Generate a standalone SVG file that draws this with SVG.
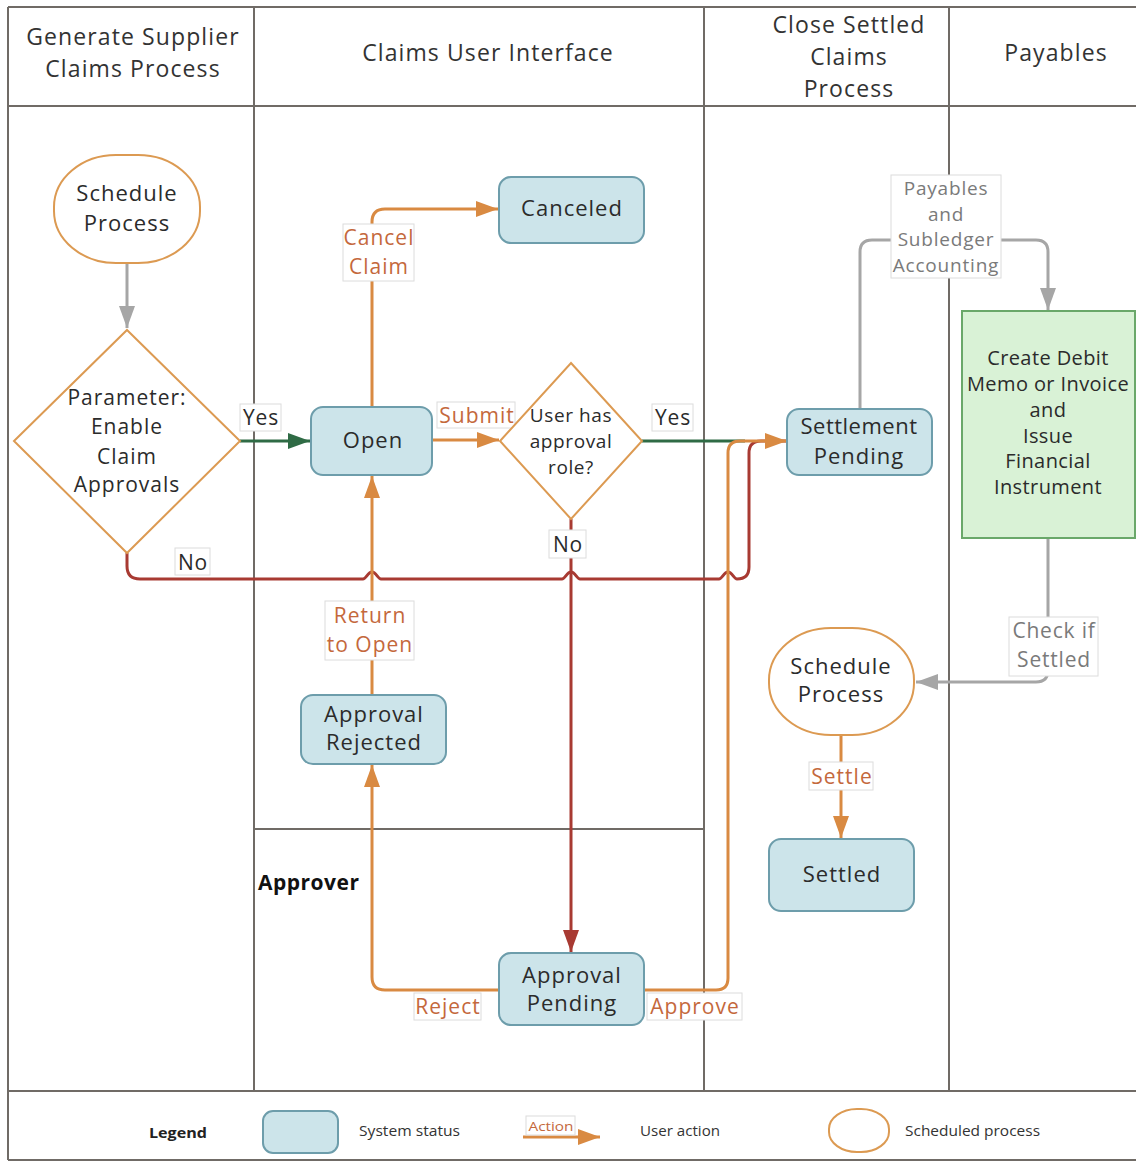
<svg xmlns="http://www.w3.org/2000/svg" width="1136" height="1162" viewBox="0 0 1136 1162">
<defs>
<style>
.lane{stroke:#706b66;stroke-width:2;fill:none}
.hdr{font-family:"Open Sans","Noto Sans",sans-serif;font-size:23px;fill:#333;text-anchor:middle;letter-spacing:1.1px}
.nt{font-family:"Open Sans","Noto Sans",sans-serif;font-size:22px;fill:#2b2b2b;text-anchor:middle;letter-spacing:1px}
.dt{font-family:"Open Sans","Noto Sans",sans-serif;font-size:21px;fill:#2b2b2b;text-anchor:middle;letter-spacing:1px}
.st{fill:#cce4ea;stroke:#6d9dab;stroke-width:2}
.sp{fill:#fff;stroke:#dc9a52;stroke-width:2}
.dia{fill:#fff;stroke:#dc9a52;stroke-width:2}
.lb{fill:#fff;stroke:#dcdcdc;stroke-width:1}
.al{font-family:"Open Sans","Noto Sans",sans-serif;font-size:21px;fill:#c4683c;text-anchor:middle;letter-spacing:1px}
.yl{font-family:"Open Sans","Noto Sans",sans-serif;font-size:21px;fill:#2b2b2b;text-anchor:middle;letter-spacing:0.8px}
.gl{font-family:"Open Sans","Noto Sans",sans-serif;font-size:19px;fill:#7a7a7a;text-anchor:middle;letter-spacing:0.8px}
.or{stroke:#d98a42;stroke-width:3;fill:none}
.rd{stroke:#a83a32;stroke-width:3;fill:none}
.gn{stroke:#2f6b45;stroke-width:3;fill:none}
.gy{stroke:#a6a6a6;stroke-width:3;fill:none}
.lg{font-family:"Open Sans","Noto Sans",sans-serif;font-size:14px;fill:#333}
</style>
<marker id="aO" markerUnits="userSpaceOnUse" markerWidth="24" markerHeight="18" refX="22" refY="8" orient="auto"><path d="M0,0 L22,8 L0,16 Z" fill="#d98a42"/></marker>
<marker id="aR" markerUnits="userSpaceOnUse" markerWidth="24" markerHeight="18" refX="22" refY="8" orient="auto"><path d="M0,0 L22,8 L0,16 Z" fill="#a83a32"/></marker>
<marker id="aG" markerUnits="userSpaceOnUse" markerWidth="24" markerHeight="18" refX="22" refY="8" orient="auto"><path d="M0,0 L22,8 L0,16 Z" fill="#2f6b45"/></marker>
<marker id="aY" markerUnits="userSpaceOnUse" markerWidth="24" markerHeight="18" refX="22" refY="8" orient="auto"><path d="M0,0 L22,8 L0,16 Z" fill="#a6a6a6"/></marker>
</defs>
<rect width="1136" height="1162" fill="#fff"/>

<g id="lanes">
<path class="lane" d="M8,7 H1136 M8,106 H1136 M8,7 V1160 M254,7 V1091 M704,7 V1091 M949,7 V1091 M8,1091 H1136 M8,1160 H1136 M254,829 H704"/>
<text class="hdr" x="133" y="45">Generate Supplier</text>
<text class="hdr" x="133" y="77">Claims Process</text>
<text class="hdr" x="488" y="61">Claims User Interface</text>
<text class="hdr" x="849" y="33">Close Settled</text>
<text class="hdr" x="849" y="65">Claims</text>
<text class="hdr" x="849" y="97">Process</text>
<text class="hdr" x="1056" y="61">Payables</text>
<text x="258" y="890" style="font-family:'Open Sans','Noto Sans',sans-serif;font-size:21px;font-weight:bold;fill:#111;letter-spacing:0.5px">Approver</text>
</g>

<g id="connectors">
<path class="gy" d="M127,263 V328" marker-end="url(#aY)"/>
<path class="gn" d="M240,441 H310" marker-end="url(#aG)"/>
<path class="or" d="M372,407 V222 Q372,209 385,209 H498" marker-end="url(#aO)"/>
<path class="or" d="M432,440 H499" marker-end="url(#aO)"/>
<path class="gn" d="M642,441 H745"/>
<path class="rd" d="M127,553 V566 Q127,579 140,579 H363 c3,0 5,-7 9,-7 c4,0 6,7 9,7 H562 c3,0 5,-7 9,-7 c4,0 6,7 9,7 H719 c3,0 5,-7 9,-7 c4,0 6,7 9,7 H737 Q749,579 749,567 V453 Q749,441 761,441 H786"/>
<path class="or" d="M644,990 H716 Q728,990 728,978 V453 Q728,441 740,441 H787" marker-end="url(#aO)"/>
<path class="rd" d="M571,519 V952" marker-end="url(#aR)"/>
<path class="or" d="M499,990 H385 Q372,990 372,977 V765" marker-end="url(#aO)"/>
<path class="or" d="M372,695 V476" marker-end="url(#aO)"/>
<path class="gy" d="M860,409 V252 Q860,240 872,240 H1036 Q1048,240 1048,252 V310" marker-end="url(#aY)"/>
<path class="gy" d="M1048,538 V670 Q1048,682 1036,682 H916" marker-end="url(#aY)"/>
<path class="or" d="M841,735 V838" marker-end="url(#aO)"/>

<rect class="lb" x="240" y="404" width="41" height="27"/>
<text class="yl" x="261" y="425">Yes</text>
<rect class="lb" x="175" y="548" width="35" height="27"/>
<text class="yl" x="193" y="570">No</text>
<rect class="lb" x="343" y="224" width="71" height="57"/>
<text class="al" x="379" y="245">Cancel</text>
<text class="al" x="379" y="274">Claim</text>
<rect class="lb" x="437" y="402" width="78" height="26"/>
<text class="al" x="477" y="423">Submit</text>
<rect class="lb" x="652" y="404" width="41" height="27"/>
<text class="yl" x="673" y="425">Yes</text>
<rect class="lb" x="549" y="530" width="37" height="28"/>
<text class="yl" x="568" y="552">No</text>
<rect class="lb" x="325" y="601" width="89" height="59"/>
<text class="al" x="370" y="623">Return</text>
<text class="al" x="370" y="652">to Open</text>
<rect class="lb" x="414" y="993" width="67" height="27"/>
<text class="al" x="448" y="1014">Reject</text>
<rect class="lb" x="647" y="993" width="95" height="27"/>
<text class="al" x="695" y="1014">Approve</text>
<rect class="lb" x="891" y="175" width="110" height="103"/>
<text class="gl" x="946" y="195">Payables</text>
<text class="gl" x="946" y="221">and</text>
<text class="gl" x="946" y="246">Subledger</text>
<text class="gl" x="946" y="272">Accounting</text>
<rect class="lb" x="1009" y="617" width="89" height="59"/>
<text class="gl" x="1054" y="638" style="font-size:21px">Check if</text>
<text class="gl" x="1054" y="667" style="font-size:21px">Settled</text>
<rect class="lb" x="809" y="762" width="64" height="28"/>
<text class="al" x="842" y="784">Settle</text>
</g>

<g id="schedule1">
<rect class="sp" x="54" y="155" width="146" height="108" rx="62" ry="52"/>
<text class="nt" x="127" y="201">Schedule</text>
<text class="nt" x="127" y="231">Process</text>
</g>
<g id="param">
<path class="dia" d="M127,330 L240,441 L127,553 L14,441 Z"/>
<text class="dt" x="127" y="405">Parameter:</text>
<text class="dt" x="127" y="434">Enable</text>
<text class="dt" x="127" y="464">Claim</text>
<text class="dt" x="127" y="492">Approvals</text>
</g>
<g id="open">
<rect class="st" x="311" y="407" width="121" height="68" rx="12"/>
<text class="nt" x="373" y="448">Open</text>
</g>
<g id="canceled">
<rect class="st" x="499" y="177" width="145" height="66" rx="12"/>
<text class="nt" x="572" y="216">Canceled</text>
</g>
<g id="role">
<path class="dia" d="M571,363 L642,441 L571,519 L500,441 Z"/>
<text class="dt" x="571" y="422" style="font-size:19px;letter-spacing:0.6px">User has</text>
<text class="dt" x="571" y="448" style="font-size:19px;letter-spacing:0.6px">approval</text>
<text class="dt" x="571" y="474" style="font-size:19px;letter-spacing:0.6px">role?</text>
</g>
<g id="settlementPending">
<rect class="st" x="787" y="409" width="145" height="66" rx="12"/>
<text class="nt" x="859" y="434" style="letter-spacing:0.5px">Settlement</text>
<text class="nt" x="859" y="464">Pending</text>
</g>
<g id="createDebit">
<rect x="962" y="311" width="173" height="227" fill="#d9f2d6" stroke="#6aa86a" stroke-width="2"/>
<text class="dt" x="1048" y="365" style="font-size:20px;letter-spacing:0.4px">Create Debit</text>
<text class="dt" x="1048" y="391" style="font-size:20px;letter-spacing:0.4px">Memo or Invoice</text>
<text class="dt" x="1048" y="417" style="font-size:20px;letter-spacing:0.4px">and</text>
<text class="dt" x="1048" y="443" style="font-size:20px;letter-spacing:0.4px">Issue</text>
<text class="dt" x="1048" y="468" style="font-size:20px;letter-spacing:0.4px">Financial</text>
<text class="dt" x="1048" y="494" style="font-size:20px;letter-spacing:0.4px">Instrument</text>
</g>
<g id="schedule2">
<rect class="sp" x="769" y="628" width="145" height="107" rx="62" ry="52"/>
<text class="nt" x="841" y="674">Schedule</text>
<text class="nt" x="841" y="702">Process</text>
</g>
<g id="settled">
<rect class="st" x="769" y="839" width="145" height="72" rx="12"/>
<text class="nt" x="842" y="882">Settled</text>
</g>
<g id="approvalRejected">
<rect class="st" x="301" y="695" width="145" height="69" rx="12"/>
<text class="nt" x="374" y="722">Approval</text>
<text class="nt" x="374" y="750">Rejected</text>
</g>
<g id="approvalPending">
<rect class="st" x="499" y="953" width="145" height="72" rx="12"/>
<text class="nt" x="572" y="983">Approval</text>
<text class="nt" x="572" y="1011">Pending</text>
</g>

<g id="legend">
<text x="149" y="1138" style="font-family:'Open Sans','Noto Sans',sans-serif;font-size:14px;font-weight:bold;fill:#222" textLength="58" lengthAdjust="spacingAndGlyphs">Legend</text>
<rect class="st" x="263" y="1111" width="75" height="42" rx="10"/>
<text class="lg" x="359" y="1136" textLength="101" lengthAdjust="spacingAndGlyphs">System status</text>
<path class="or" d="M523,1137 H600" marker-end="url(#aO)"/>
<rect class="lb" x="526" y="1116" width="49" height="19"/>
<text x="551" y="1131" style="font-family:'Open Sans','Noto Sans',sans-serif;font-size:13px;fill:#c4683c;text-anchor:middle" textLength="45" lengthAdjust="spacingAndGlyphs">Action</text>
<text class="lg" x="640" y="1136" textLength="80" lengthAdjust="spacingAndGlyphs">User action</text>
<rect class="sp" x="829" y="1109" width="60" height="43" rx="28" ry="20"/>
<text class="lg" x="905" y="1136" textLength="135" lengthAdjust="spacingAndGlyphs">Scheduled process</text>
</g>
</svg>
